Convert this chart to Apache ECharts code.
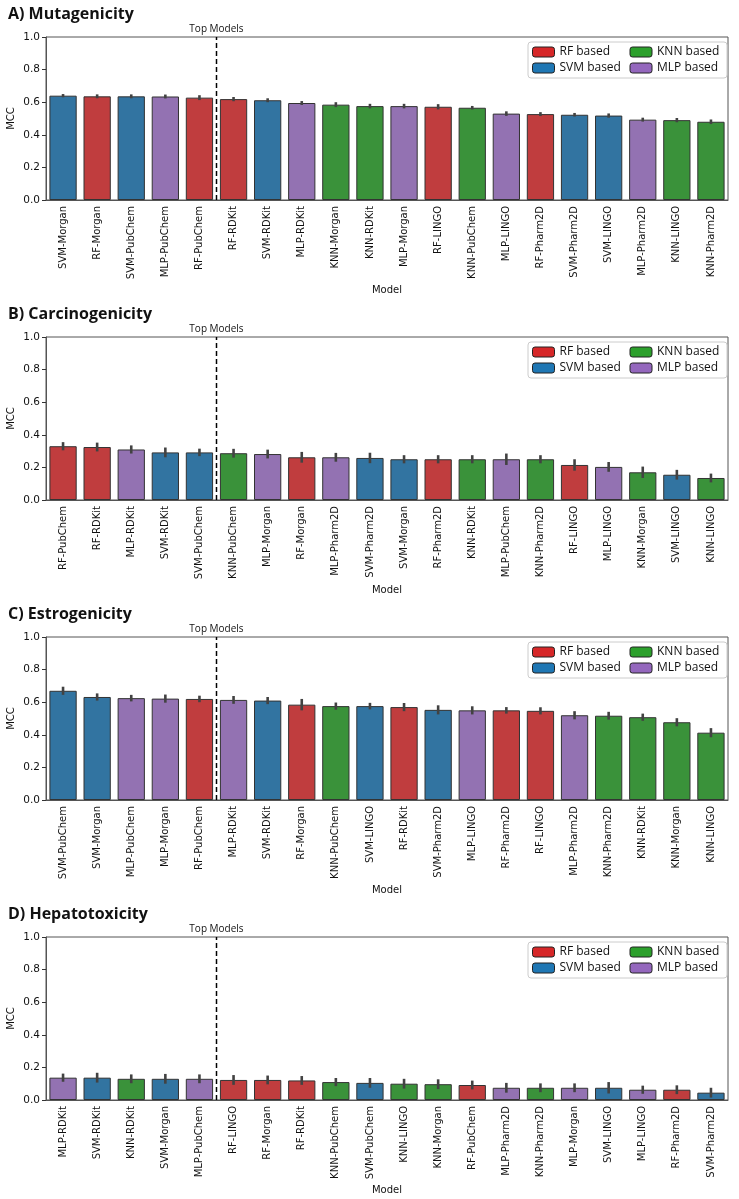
<!DOCTYPE html>
<html>
<head>
<meta charset="utf-8">
<script src="https://cdn.jsdelivr.net/npm/echarts@6/dist/echarts.min.js"></script>
<style>
  html, body { margin: 0; padding: 0; background: #ffffff; }
  .panel { width: 739px; height: 300px; }
</style>
</head>
<body>
<div id="pa" class="panel"></div>
<div id="pb" class="panel"></div>
<div id="pc" class="panel"></div>
<div id="pd" class="panel" style="height:299px"></div>
<script>
// model groups
var groups = ['RF', 'SVM', 'KNN', 'MLP'];
var groupNames = ['RF based', 'SVM based', 'KNN based', 'MLP based'];
var barColors = ['#c03d3e', '#3274a1', '#3a923a', '#9372b2'];
var legendColors = ['#d62728', '#1f77b4', '#2ca02c', '#9467bd'];

// A) Mutagenicity
var mutaLabels = ['SVM-Morgan','RF-Morgan','SVM-PubChem','MLP-PubChem','RF-PubChem','RF-RDKit','SVM-RDKit','MLP-RDKit','KNN-Morgan','KNN-RDKit',
                  'MLP-Morgan','RF-LINGO','KNN-PubChem','MLP-LINGO','RF-Pharm2D','SVM-Pharm2D','SVM-LINGO','MLP-Pharm2D','KNN-LINGO','KNN-Pharm2D'];
var mutaValues = [0.640,0.636,0.636,0.635,0.628,0.619,0.612,0.595,0.585,0.576,0.576,0.572,0.566,0.530,0.527,0.523,0.518,0.493,0.490,0.480];
var mutaErr = [0.010,0.012,0.012,0.012,0.015,0.013,0.012,0.012,0.015,0.014,0.014,0.016,0.011,0.014,0.012,0.011,0.013,0.012,0.013,0.014];

// B) Carcinogenicity
var carcLabels = ['RF-PubChem','RF-RDKit','MLP-RDKit','SVM-RDKit','SVM-PubChem','KNN-PubChem','MLP-Morgan','RF-Morgan','MLP-Pharm2D','SVM-Pharm2D',
                  'SVM-Morgan','RF-Pharm2D','KNN-RDKit','MLP-PubChem','KNN-Pharm2D','RF-LINGO','MLP-LINGO','KNN-Morgan','SVM-LINGO','KNN-LINGO'];
var carcValues = [0.330,0.325,0.310,0.292,0.292,0.287,0.282,0.262,0.262,0.258,0.250,0.250,0.250,0.250,0.250,0.215,0.203,0.170,0.155,0.135];
var carcErr = [0.025,0.027,0.025,0.030,0.023,0.027,0.027,0.033,0.027,0.032,0.025,0.025,0.025,0.035,0.025,0.035,0.030,0.035,0.030,0.027];

// C) Estrogenicity
var estrLabels = ['SVM-PubChem','SVM-Morgan','MLP-PubChem','MLP-Morgan','RF-PubChem','MLP-RDKit','SVM-RDKit','RF-Morgan','KNN-PubChem','SVM-LINGO',
                  'RF-RDKit','SVM-Pharm2D','MLP-LINGO','RF-Pharm2D','RF-LINGO','MLP-Pharm2D','KNN-Pharm2D','KNN-RDKit','KNN-Morgan','KNN-LINGO'];
var estrValues = [0.670,0.632,0.625,0.622,0.620,0.614,0.610,0.585,0.576,0.576,0.570,0.553,0.550,0.550,0.547,0.520,0.517,0.508,0.477,0.413];
var estrErr = [0.025,0.022,0.020,0.025,0.020,0.024,0.022,0.035,0.022,0.020,0.025,0.028,0.025,0.020,0.022,0.025,0.024,0.022,0.025,0.028];

// D) Hepatotoxicity
var hepaLabels = ['MLP-RDKit','SVM-RDKit','KNN-RDKit','SVM-Morgan','MLP-PubChem','RF-LINGO','RF-Morgan','RF-RDKit','KNN-PubChem','SVM-PubChem',
                  'KNN-LINGO','KNN-Morgan','RF-PubChem','MLP-Pharm2D','KNN-Pharm2D','MLP-Morgan','SVM-LINGO','MLP-LINGO','RF-Pharm2D','SVM-Pharm2D'];
var hepaValues = [0.137,0.137,0.130,0.130,0.130,0.123,0.123,0.120,0.110,0.105,0.100,0.097,0.092,0.075,0.075,0.075,0.075,0.063,0.063,0.045];
var hepaErr = [0.025,0.030,0.027,0.030,0.027,0.030,0.027,0.027,0.025,0.030,0.030,0.030,0.027,0.030,0.027,0.027,0.035,0.025,0.027,0.030];

var topModels = 5;

function renderPanel(id, title, labels, values, errs){
    var chart = echarts.init(document.getElementById(id));
    var n = labels.length;
    var series = [];

    // one bar series per model group, overlapped so each category holds one bar
    for(var g = 0; g < groups.length; g++){
        var d = [];
        for(var i = 0; i < n; i++){
            d.push(labels[i].split('-')[0] === groups[g] ? values[i] : '-');
        }
        series.push({
            name: groupNames[g],
            type: 'bar',
            data: d,
            barWidth: '80%',
            barGap: '-100%',
            itemStyle: { color: barColors[g], borderColor: '#333333', borderWidth: 1 },
            emphasis: { disabled: true }
        });
    }

    // error bars
    var errData = [];
    for(var i = 0; i < n; i++){
        errData.push([i, values[i] - errs[i], values[i] + errs[i]]);
    }
    series.push({
        type: 'custom',
        data: errData,
        z: 10,
        renderItem: function(params, api){
            var p0 = api.coord([api.value(0), api.value(1)]);
            var p1 = api.coord([api.value(0), api.value(2)]);
            return {
                type: 'line',
                shape: { x1: p0[0], y1: p0[1], x2: p1[0], y2: p1[1] },
                style: { stroke: '#424242', lineWidth: 2.6 }
            };
        }
    });

    // dashed separator after the top models
    series.push({
        type: 'line',
        xAxisIndex: 1,
        data: [[topModels - 0.5, 0], {
            value: [topModels - 0.5, 1],
            label: {
                show: true, position: 'top', distance: 3,
                formatter: 'Top Models',
                fontFamily: 'Open Sans', fontSize: 10, color: '#111'
            }
        }],
        symbol: 'circle',
        symbolSize: 0.1,
        lineStyle: { color: '#000', width: 1.5, type: [5, 3] },
        z: 5,
        silent: true
    });

    var legendData = [];
    var order = [0, 2, 1, 3];
    for(var k = 0; k < order.length; k++){
        legendData.push({ name: groupNames[order[k]], itemStyle: { color: legendColors[order[k]], borderColor: '#222', borderWidth: 1 } });
    }

    chart.setOption({
        backgroundColor: '#ffffff',
        animation: false,
        title: {
            text: title,
            left: 3, top: 1,
            textStyle: { fontFamily: 'Open Sans', fontWeight: 'bold', fontSize: 16, color: '#111' }
        },
        legend: {
            data: legendData,
            right: 12, top: 42,
            width: 196,
            itemWidth: 22, itemHeight: 10,
            itemGap: 4,
            padding: [4, 4, 4, 4],
            backgroundColor: '#ffffff',
            borderColor: '#cccccc', borderWidth: 1, borderRadius: 3,
            textStyle: { fontFamily: 'Open Sans', fontSize: 12, color: '#111', width: 66, lineHeight: 10 },
            selectedMode: false
        },
        grid: {
            left: 46, right: 11, top: 37, height: 163,
            outerBoundsMode: 'none',
            show: true, borderColor: '#555555', borderWidth: 1
        },
        xAxis: [{
            type: 'category',
            data: labels,
            name: 'Model',
            nameLocation: 'middle',
            nameGap: 85,
            nameMoveOverlap: false,
            nameTextStyle: { fontFamily: 'DejaVu Sans', fontSize: 10, color: '#111' },
            axisLine: { lineStyle: { color: '#555' } },
            axisTick: { alignWithLabel: true, length: 4, lineStyle: { color: '#333' } },
            axisLabel: { rotate: 90, fontFamily: 'DejaVu Sans', fontSize: 10, color: '#111', margin: 6, interval: 0 },
            splitLine: { show: false }
        }, {
            type: 'value',
            min: -0.5, max: n - 0.5,
            show: false
        }],
        yAxis: {
            type: 'value',
            min: 0, max: 1, interval: 0.2,
            name: 'MCC',
            nameLocation: 'middle',
            nameGap: 30,
            nameMoveOverlap: false,
            nameTextStyle: { fontFamily: 'DejaVu Sans', fontSize: 10, color: '#111' },
            axisLine: { show: true, onZero: false, lineStyle: { color: '#555' } },
            axisTick: { show: true, length: 4, lineStyle: { color: '#333' } },
            axisLabel: {
                fontFamily: 'DejaVu Sans', fontSize: 10.5, color: '#111', margin: 6,
                formatter: function(v){ return v.toFixed(1); }
            },
            splitLine: { show: false }
        },
        series: series
    });
}

renderPanel('pa', 'A) Mutagenicity', mutaLabels, mutaValues, mutaErr);
renderPanel('pb', 'B) Carcinogenicity', carcLabels, carcValues, carcErr);
renderPanel('pc', 'C) Estrogenicity', estrLabels, estrValues, estrErr);
renderPanel('pd', 'D) Hepatotoxicity', hepaLabels, hepaValues, hepaErr);
</script>
</body>
</html>
